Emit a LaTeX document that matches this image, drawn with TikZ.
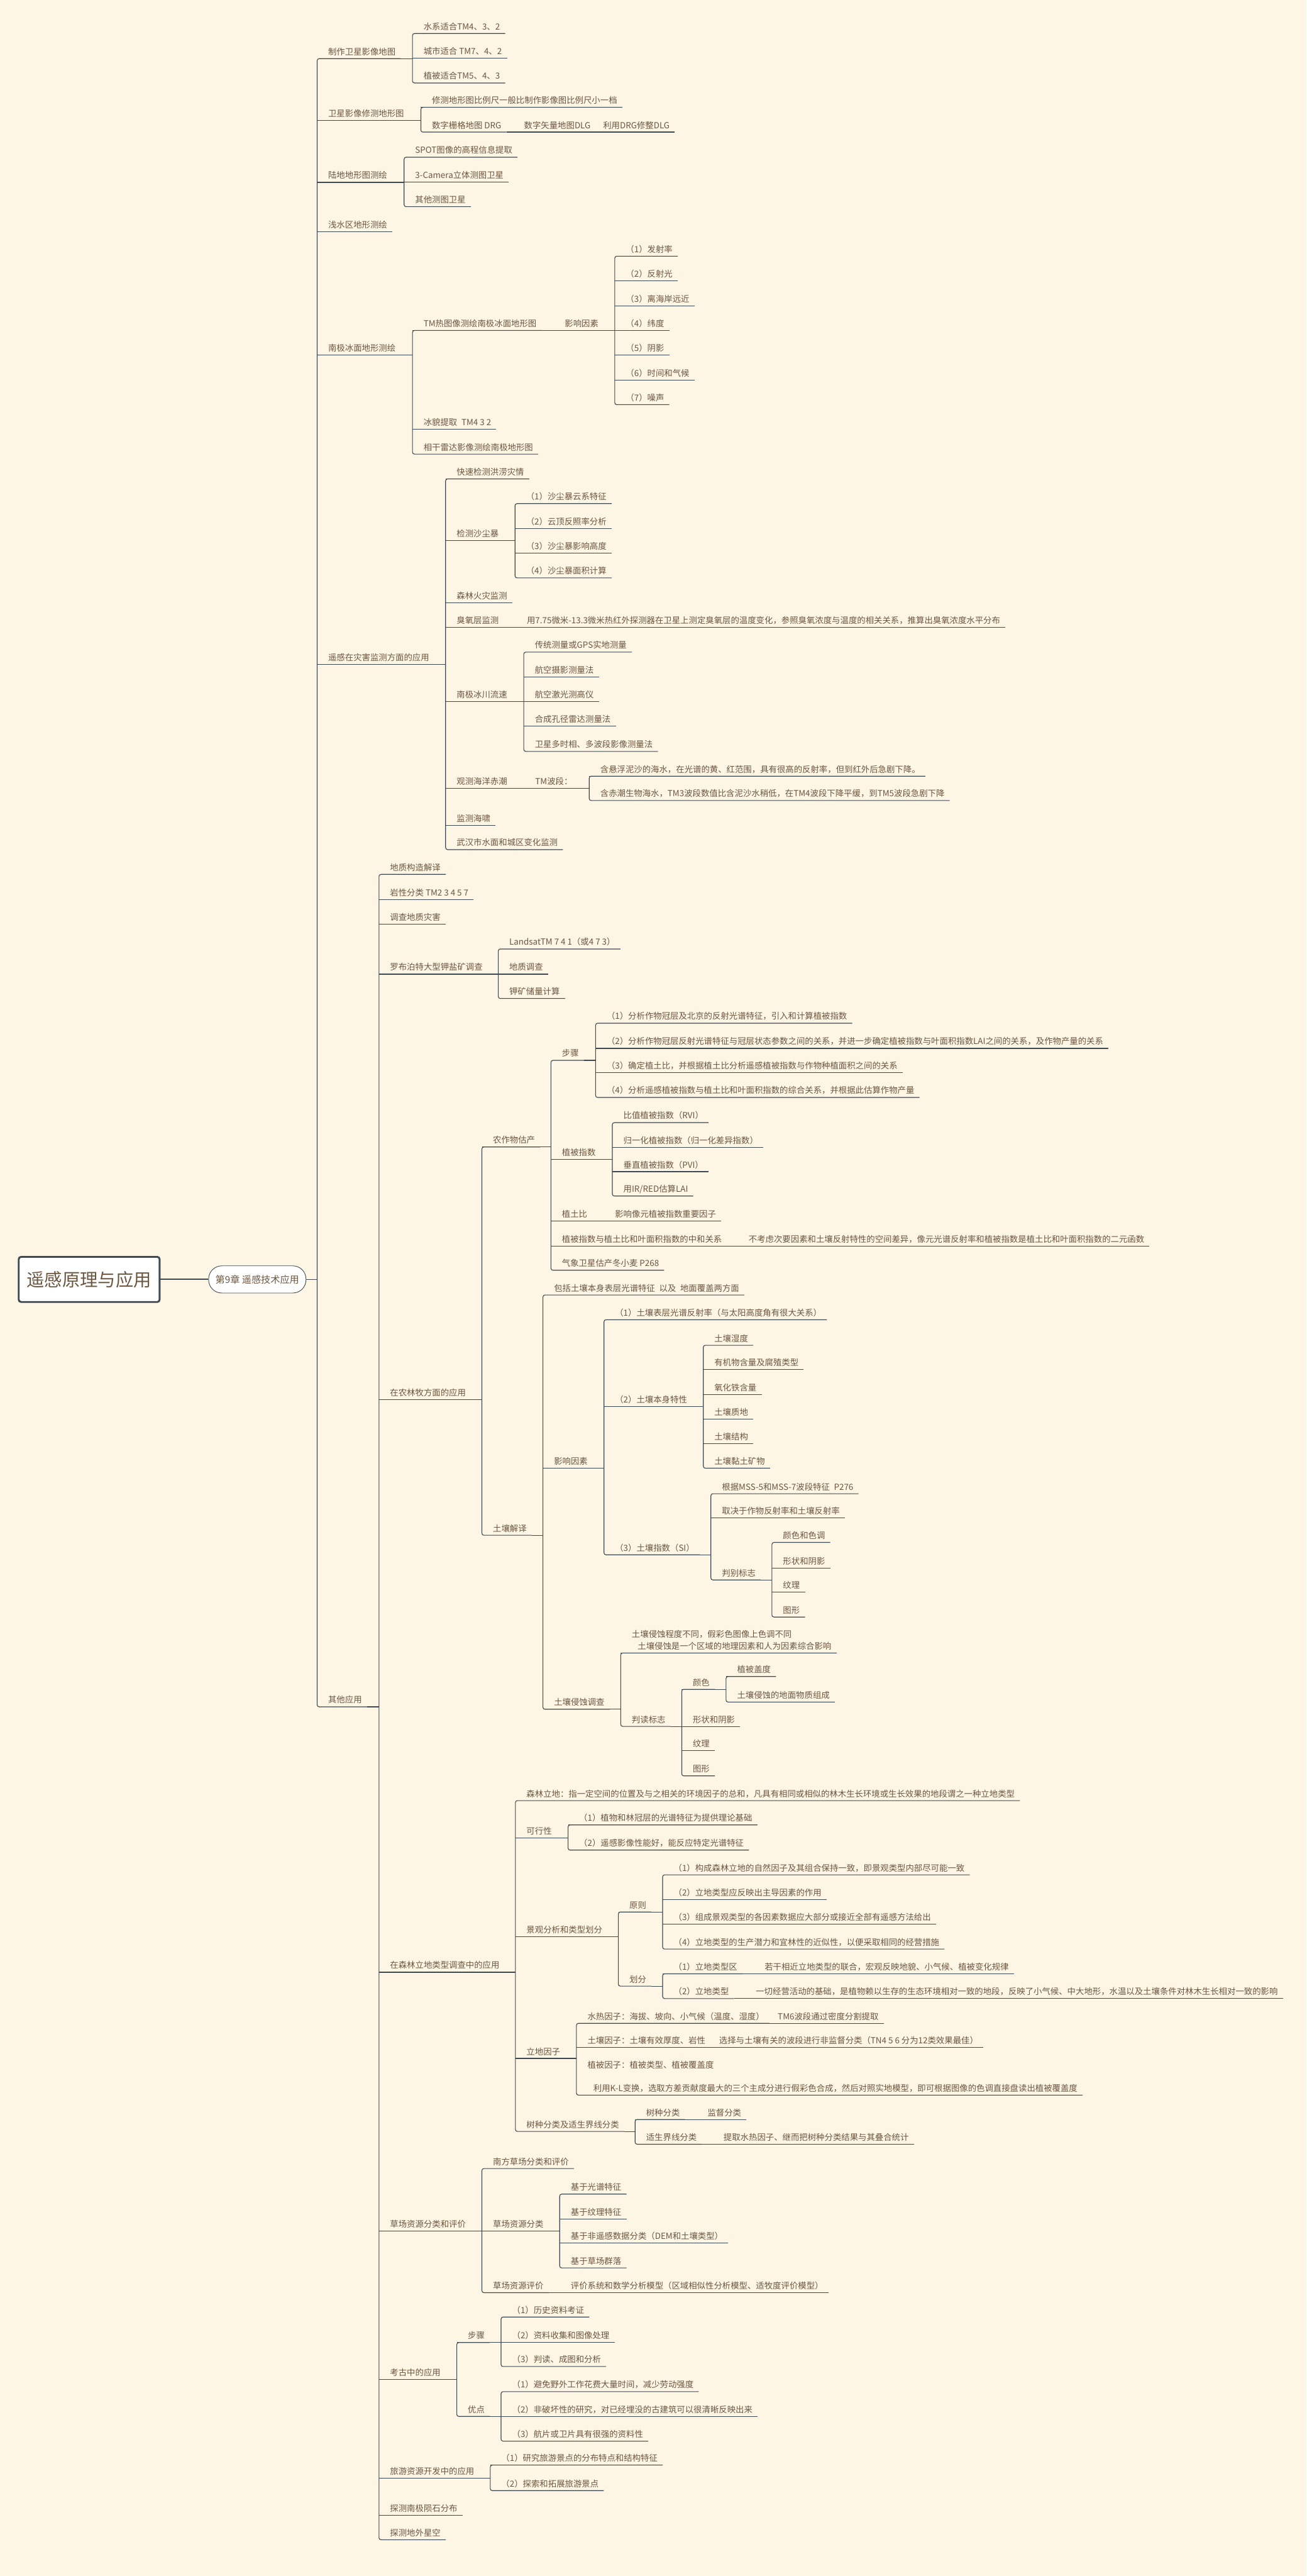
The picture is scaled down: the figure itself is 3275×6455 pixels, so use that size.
\documentclass[tikz,border=0pt]{standalone}
\usepackage{fontspec}
\newfontfamily\cjk{Noto Sans CJK SC}
\usepackage{xcolor}
\definecolor{paper}{RGB}{253,246,229}
\definecolor{ink}{RGB}{108,86,64}
\definecolor{wire}{RGB}{62,72,80}
\tikzset{
  topic/.style={anchor=south west, inner xsep=3.5pt, inner ysep=2.5pt, text depth=0pt, text=ink,
    font=\cjk\fontsize{6}{8.5}\selectfont, execute at begin node={\hspace*{4.2pt}}},
  link/.style={draw=wire, line width=0.5pt},
  elbow/.style={link, rounded corners=0.05cm}
}
\begin{document}
\begin{tikzpicture}[x=0.01cm, y=-0.01cm]
  \fill[paper] (0,0) rectangle (3275,6455);
  \useasboundingbox (0,0) rectangle (3275,6455);

  \node[draw=wire, line width=1.3pt, fill=white, rounded corners=0.06cm, minimum width=3.53cm,
        minimum height=1.13cm, text=ink, font=\cjk\fontsize{12.7}{14}\selectfont] (root) at (223.5,3206) {遥感原理与应用};
  \node[draw=wire, line width=0.4pt, fill=white, rounded corners=0.33cm, minimum width=2.44cm,
        minimum height=0.68cm, text=ink, font=\cjk\fontsize{6.8}{8}\selectfont] (chap) at (645,3206) {第9章 遥感技术应用};
  \draw[wire, line width=1pt] (root.east) -- (chap.west);

  \node[topic] (m1) at (795,147) {制作卫星影像地图};
  \node[topic] (a1) at (1034,84) {水系适合TM4、3、2};
  \node[topic] (a2) at (1034,146) {城市适合 TM7、4、2};
  \node[topic] (a3) at (1034,208) {植被适合TM5、4、3};
  \node[topic] (m2) at (795,302) {卫星影像修测地形图};
  \node[topic] (b1) at (1055,269) {修测地形图比例尺一般比制作影像图比例尺小一档};
  \node[topic] (b2) at (1055,331) {数字栅格地图 DRG};
  \node[topic] (b2a) at (1286,331) {数字矢量地图DLG};
  \node[topic] (b2b) at (1484,331) {利用DRG修整DLG};
  \node[topic] (m3) at (795,457) {陆地地形图测绘};
  \node[topic] (c1) at (1013,394) {SPOT图像的高程信息提取};
  \node[topic] (c2) at (1013,456) {3-Camera立体测图卫星};
  \node[topic] (c3) at (1013,518) {其他测图卫星};
  \node[topic] (m4) at (795,581) {浅水区地形测绘};
  \node[topic] (m5) at (795,890) {南极冰面地形测绘};
  \node[topic] (d1) at (1034,828) {TM热图像测绘南极冰面地形图};
  \node[topic] (d1a) at (1388,828) {影响因素};
  \node[topic] (e1) at (1541,642) {（1）发射率};
  \node[topic] (e2) at (1541,704) {（2）反射光};
  \node[topic] (e3) at (1541,766) {（3）离海岸远近};
  \node[topic] (e4) at (1541,828) {（4）纬度};
  \node[topic] (e5) at (1541,890) {（5）阴影};
  \node[topic] (e6) at (1541,952) {（6）时间和气候};
  \node[topic] (e7) at (1541,1014) {（7）噪声};
  \node[topic] (d2) at (1034,1076) {冰貌提取\enspace TM4 3 2};
  \node[topic] (d3) at (1034,1138) {相干雷达影像测绘南极地形图};

  \node[topic] (m6) at (795,1665) {遥感在灾害监测方面的应用};
  \node[topic] (f1) at (1117,1200) {快速检测洪涝灾情};
  \node[topic] (f2) at (1117,1354) {检测沙尘暴};
  \node[topic] (g1) at (1291,1262) {（1）沙尘暴云系特征};
  \node[topic] (g2) at (1291,1324) {（2）云顶反照率分析};
  \node[topic] (g3) at (1291,1386) {（3）沙尘暴影响高度};
  \node[topic] (g4) at (1291,1448) {（4）沙尘暴面积计算};
  \node[topic] (f3) at (1117,1510) {森林火灾监测};
  \node[topic] (f4) at (1117,1572) {臭氧层监测};
  \node[topic] (f4a) at (1293,1572) {用7.75微米-13.3微米热红外探测器在卫星上测定臭氧层的温度变化，参照臭氧浓度与温度的相关关系，推算出臭氧浓度水平分布};
  \node[topic] (f5) at (1117,1758) {南极冰川流速};
  \node[topic] (h1) at (1313,1634) {传统测量或GPS实地测量};
  \node[topic] (h2) at (1313,1696) {航空摄影测量法};
  \node[topic] (h3) at (1313,1758) {航空激光测高仪};
  \node[topic] (h4) at (1313,1820) {合成孔径雷达测量法};
  \node[topic] (h5) at (1313,1883) {卫星多时相、多波段影像测量法};
  \node[topic] (f6) at (1117,1976) {观测海洋赤潮};
  \node[topic] (f6a) at (1314,1976) {TM波段：};
  \node[topic] (i1) at (1477,1945) {含悬浮泥沙的海水，在光谱的黄、红范围，具有很高的反射率，但到红外后急剧下降。};
  \node[topic] (i2) at (1477,2006) {含赤潮生物海水，TM3波段数值比含泥沙水稍低，在TM4波段下降平缓，到TM5波段急剧下降};
  \node[topic] (f7) at (1117,2068) {监测海啸};
  \node[topic] (f8) at (1117,2129) {武汉市水面和城区变化监测};

  \node[topic] (m7) at (795,4277) {其他应用};
  \node[topic] (j1) at (950,2191) {地质构造解译};
  \node[topic] (j2) at (950,2254) {岩性分类 TM2 3 4 5 7};
  \node[topic] (j3) at (950,2316) {调查地质灾害};
  \node[topic] (j4) at (950,2441) {罗布泊特大型钾盐矿调查};
  \node[topic] (k1) at (1249,2378) {LandsatTM 7 4 1（或4 7 3）};
  \node[topic] (k2) at (1249,2441) {地质调查};
  \node[topic] (k3) at (1249,2502) {钾矿储量计算};
  \node[topic] (j5) at (950,3507) {在农林牧方面的应用};
  \node[topic] (l1) at (1208,2874) {农作物估产};
  \node[topic] (n1) at (1381,2657) {步骤};
  \node[topic] (o1) at (1493,2564) {（1）分析作物冠层及北京的反射光谱特征，引入和计算植被指数};
  \node[topic] (o2) at (1493,2627) {（2）分析作物冠层反射光谱特征与冠层状态参数之间的关系，并进一步确定植被指数与叶面积指数LAI之间的关系，及作物产量的关系};
  \node[topic] (o3) at (1493,2688) {（3）确定植土比，并根据植土比分析遥感植被指数与作物种植面积之间的关系};
  \node[topic] (o4) at (1493,2750) {（4）分析遥感植被指数与植土比和叶面积指数的综合关系，并根据此估算作物产量};
  \node[topic] (n2) at (1381,2905) {植被指数};
  \node[topic] (p1) at (1535,2813) {比值植被指数（RVI）};
  \node[topic] (p2) at (1535,2875) {归一化植被指数（归一化差异指数）};
  \node[topic] (p3) at (1535,2936) {垂直植被指数（PVI）};
  \node[topic] (p4) at (1535,2997) {用IR/RED估算LAI};
  \node[topic] (n3) at (1381,3060) {植土比};
  \node[topic] (n3a) at (1514,3060) {影响像元植被指数重要因子};
  \node[topic] (n4) at (1381,3122) {植被指数与植土比和叶面积指数的中和关系};
  \node[topic] (n4a) at (1849,3122) {不考虑次要因素和土壤反射特性的空间差异，像元光谱反射率和植被指数是植土比和叶面积指数的二元函数};
  \node[topic] (n5) at (1381,3183) {气象卫星估产冬小麦 P268};
  \node[topic] (l2) at (1208,3847) {土壤解译};
  \node[topic] (q1) at (1361,3245) {包括土壤本身表层光谱特征\enspace 以及\enspace 地面覆盖两方面};
  \node[topic] (q2) at (1361,3679) {影响因素};
  \node[topic] (r1) at (1514,3307) {（1）土壤表层光谱反射率（与太阳高度角有很大关系）};
  \node[topic] (r2) at (1514,3524) {（2）土壤本身特性};
  \node[topic] (s1) at (1763,3371) {土壤湿度};
  \node[topic] (s2) at (1763,3432) {有机物含量及腐殖类型};
  \node[topic] (s3) at (1763,3494) {氧化铁含量};
  \node[topic] (s4) at (1763,3556) {土壤质地};
  \node[topic] (s5) at (1763,3617) {土壤结构};
  \node[topic] (s6) at (1763,3679) {土壤黏土矿物};
  \node[topic] (r3) at (1514,3896) {（3）土壤指数（SI）};
  \node[topic] (t1) at (1782,3743) {根据MSS-5和MSS-7波段特征\enspace P276};
  \node[topic] (t2) at (1782,3804) {取决于作物反射率和土壤反射率};
  \node[topic] (t3) at (1782,3959) {判别标志};
  \node[topic] (u1) at (1935,3865) {颜色和色调};
  \node[topic] (u2) at (1935,3929) {形状和阴影};
  \node[topic] (u3) at (1935,3990) {纹理};
  \node[topic] (u4) at (1935,4052) {图形};
  \node[topic] (q3) at (1361,4283) {土壤侵蚀调查};
  \node[topic, align=left] (v1) at (1556,4142) {土壤侵蚀程度不同，假彩色图像上色调不同\\\hspace*{4.2pt}土壤侵蚀是一个区域的地理因素和人为因素综合影响};
  \node[topic] (v2) at (1556,4326) {判读标志};
  \node[topic] (w1) at (1709,4233) {颜色};
  \node[topic] (x1) at (1820,4201) {植被盖度};
  \node[topic] (x2) at (1820,4265) {土壤侵蚀的地面物质组成};
  \node[topic] (w2) at (1709,4326) {形状和阴影};
  \node[topic] (w3) at (1709,4387) {纹理};
  \node[topic] (w4) at (1709,4450) {图形};

  \node[topic] (j6) at (950,4942) {在森林立地类型调查中的应用};
  \node[topic] (y1) at (1292,4512) {森林立地：指一定空间的位置及与之相关的环境因子的总和，凡具有相同或相似的林木生长环境或生长效果的地段谓之一种立地类型};
  \node[topic] (y2) at (1292,4605) {可行性};
  \node[topic] (z1) at (1424,4573) {（1）植物和林冠层的光谱特征为提供理论基础};
  \node[topic] (z2) at (1424,4636) {（2）遥感影像性能好，能反应特定光谱特征};
  \node[topic] (y3) at (1292,4853) {景观分析和类型划分};
  \node[topic] (aa1) at (1550,4791) {原则};
  \node[topic] (ab1) at (1661,4698) {（1）构成森林立地的自然因子及其组合保持一致，即景观类型内部尽可能一致};
  \node[topic] (ab2) at (1661,4760) {（2）立地类型应反映出主导因素的作用};
  \node[topic] (ab3) at (1661,4822) {（3）组成景观类型的各因素数据应大部分或接近全部有遥感方法给出};
  \node[topic] (ab4) at (1661,4884) {（4）立地类型的生产潜力和宜林性的近似性，以便采取相同的经营措施};
  \node[topic] (aa2) at (1550,4977) {划分};
  \node[topic] (ac1) at (1661,4946) {（1）立地类型区};
  \node[topic] (ac1a) at (1889,4946) {若干相近立地类型的联合，宏观反映地貌、小气候、植被变化规律};
  \node[topic] (ac2) at (1661,5008) {（2）立地类型};
  \node[topic] (ac2a) at (1867,5008) {一切经营活动的基础，是植物赖以生存的生态环境相对一致的地段，反映了小气候、中大地形，水温以及土壤条件对林木生长相对一致的影响};
  \node[topic] (y4) at (1292,5158) {立地因子};
  \node[topic] (ad1) at (1445,5070) {水热因子：海拔、坡向、小气候（温度、湿度）};
  \node[topic] (ad1a) at (1922,5070) {TM6波段通过密度分割提取};
  \node[topic] (ad2) at (1445,5131) {土壤因子：土壤有效厚度、岩性};
  \node[topic] (ad2a) at (1775,5131) {选择与土壤有关的波段进行非监督分类（TN4 5 6 分为12类效果最佳）};
  \node[topic, align=left] (ad3) at (1445,5250) {植被因子：植被类型、植被覆盖度\\[8pt]\hspace*{4.2pt}利用K-L变换，选取方差贡献度最大的三个主成分进行假彩色合成，然后对照实地模型，即可根据图像的色调直接盘读出植被覆盖度};
  \node[topic] (y5) at (1292,5341) {树种分类及适生界线分类};
  \node[topic] (ae1) at (1592,5311) {树种分类};
  \node[topic] (ae1a) at (1746,5311) {监督分类};
  \node[topic] (ae2) at (1592,5373) {适生界线分类};
  \node[topic] (ae2a) at (1786,5373) {提取水热因子、继而把树种分类结果与其叠合统计};

  \node[topic] (j7) at (950,5590) {草场资源分类和评价};
  \node[topic] (af1) at (1208,5434) {南方草场分类和评价};
  \node[topic] (af2) at (1208,5590) {草场资源分类};
  \node[topic] (ag1) at (1403,5498) {基于光谱特征};
  \node[topic] (ag2) at (1403,5560) {基于纹理特征};
  \node[topic] (ag3) at (1403,5621) {基于非遥感数据分类（DEM和土壤类型）};
  \node[topic] (ag4) at (1403,5683) {基于草场群落};
  \node[topic] (af3) at (1208,5745) {草场资源评价};
  \node[topic] (af3a) at (1403,5745) {评价系统和数学分析模型（区域相似性分析模型、适牧度评价模型）};
  \node[topic] (j8) at (950,5962) {考古中的应用};
  \node[topic] (ah1) at (1145,5870) {步骤};
  \node[topic] (ai1) at (1256,5806) {（1）历史资料考证};
  \node[topic] (ai2) at (1256,5870) {（2）资料收集和图像处理};
  \node[topic] (ai3) at (1256,5930) {（3）判读、成图和分析};
  \node[topic] (ah2) at (1145,6055) {优点};
  \node[topic] (aj1) at (1256,5993) {（1）避免野外工作花费大量时间，减少劳动强度};
  \node[topic] (aj2) at (1256,6055) {（2）非破坏性的研究，对已经埋没的古建筑可以很清晰反映出来};
  \node[topic] (aj3) at (1256,6117) {（3）航片或卫片具有很强的资料性};
  \node[topic] (j9) at (950,6210) {旅游资源开发中的应用};
  \node[topic] (ak1) at (1229,6177) {（1）研究旅游景点的分布特点和结构特征};
  \node[topic] (ak2) at (1229,6241) {（2）探索和拓展旅游景点};
  \node[topic] (j10) at (950,6303) {探测南极陨石分布};
  \node[topic] (j11) at (950,6364) {探测地外星空};

  % stubs and underlines
  \draw[link] (chap.east) -- (chap.east -| m1.south west);
  \foreach \dst in {m2,m3,m4,m5,m6}
    \draw[link] (\dst.south west) -- (\dst.south east);
  \foreach \src/\dst in {m1/a2,m2/b1,b2/b2a,b2a/b2b,m3/c2,
      m5/d1,m5/d2,d1/d1a,d1a/e2,d1a/e3,d1a/e4,d1a/e5,d1a/e6,
      m6/f1,m6/f2,m6/f3,m6/f4,m6/f5,m6/f6,m6/f7,f2/g2,f2/g3,f4/f4a,
      f5/h2,f5/h3,f5/h4,f6/f6a,f6a/i1,
      m7/j2,m7/j3,m7/j4,m7/j5,m7/j6,m7/j7,m7/j8,m7/j9,m7/j10,j4/k2,
      j5/l1,l1/n2,l1/n3,l1/n4,n1/o2,n1/o3,
      n2/p2,n2/p3,n3/n3a,n4/n4a,l2/q2,q2/r2,
      r2/s2,r2/s3,r2/s4,r2/s5,r3/t2,t3/u2,t3/u3,
      q3/v1,v2/w1,v2/w2,v2/w3,w1/x1,
      j6/y2,j6/y3,j6/y4,y2/z1,y3/aa1,aa1/ab2,aa1/ab3,
      aa2/ac1,ac1/ac1a,ac2/ac2a,y4/ad2,ad1/ad1a,ad2/ad2a,
      y5/ae1,ae1/ae1a,ae2/ae2a,j7/af2,af2/ag2,af2/ag3,af3/af3a,
      j8/ah1,ah1/ai2,ah2/aj2,j9/ak1}
  {
    \draw[link] (\src.south east) -- (\src.south east -| \dst.south west);
    \draw[link] (\dst.south west) -- (\dst.south east);
  }
  % spines
  \foreach \hi/\lo in {m1/m7,a1/a3,b1/b2,c1/c3,d1/d3,e1/e7,f1/f8,g1/g4,h1/h5,i1/i2,
      j1/j11,k1/k3,l1/l2,n1/n5,o1/o4,p1/p4,q1/q3,r1/r3,s1/s6,t1/t3,u1/u4,v1/v2,w1/w4,x1/x2,
      y1/y5,z1/z2,aa1/aa2,ab1/ab4,ac1/ac2,ad1/ad3,ae1/ae2,af1/af3,ag1/ag4,ah1/ah2,ai1/ai3,aj1/aj3,ak1/ak2}
    \draw[elbow] (\hi.south east) -- (\hi.south west) -- (\lo.south west) -- (\lo.south east);
\end{tikzpicture}
\end{document}
